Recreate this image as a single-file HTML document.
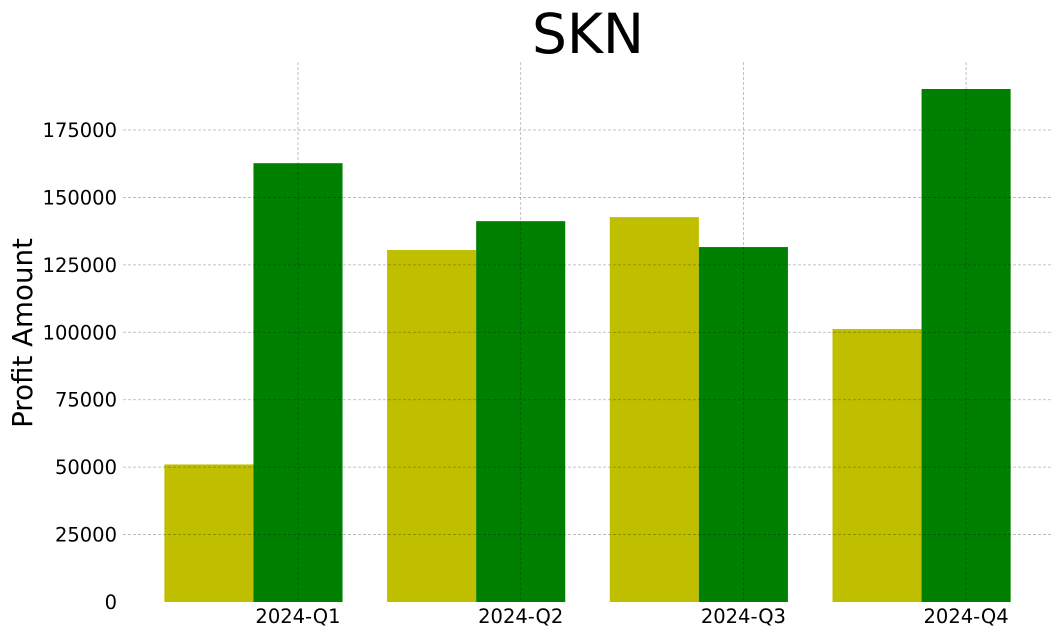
<!DOCTYPE html>
<html><head><meta charset="utf-8"><style>
html,body{margin:0;padding:0;background:#fff;}
svg{display:block;font-family:"DejaVu Sans","Liberation Sans",sans-serif;}
</style></head><body>
<svg id="chart" width="1062" height="636">
<text x="588" y="53" font-size="55" text-anchor="middle">SKN</text>
<text transform="translate(32,333) rotate(-90)" font-size="27.7" text-anchor="middle">Profit Amount</text>
<g id="bars"></g><g id="grid"></g><g id="ticks"></g>
</svg>
<script>
const categories = ["2024-Q1","2024-Q2","2024-Q3","2024-Q4"];
const seriesA = [51000, 130500, 142700, 101200];
const seriesB = [162700, 141200, 131600, 190200];
const yTicks = [0,25000,50000,75000,100000,125000,150000,175000];
const NS="http://www.w3.org/2000/svg";
const plotL=123, plotR=1053, plotT=62, y0=602, yPer=(602-130)/175000;
const x=i=>298+i*222.7;
const y=v=>y0-v*yPer;
const bw=0.4*222.7;
function mk(tag,attrs,parent){const e=document.createElementNS(NS,tag);for(const k in attrs)e.setAttribute(k,attrs[k]);parent.appendChild(e);return e;}
const bars=document.getElementById('bars'),grid=document.getElementById('grid'),ticks=document.getElementById('ticks');
categories.forEach((c,i)=>{
  const a=mk('rect',{x:x(i)-1.5*bw,y:y(seriesA[i]),width:bw,height:y0-y(seriesA[i]),fill:'#bfbf00'},bars);
  
  
  const b=mk('rect',{x:x(i)-0.5*bw,y:y(seriesB[i]),width:bw,height:y0-y(seriesB[i]),fill:'#008000'},bars);
  
  
  const g=mk('line',{x1:x(i),x2:x(i),y1:plotT,y2:y0,stroke:'#000','stroke-opacity':0.3,'stroke-width':0.8,'stroke-dasharray':'3,2'},grid);
  
  
  const t=mk('text',{x:x(i),y:623,'font-size':19.5,'text-anchor':'middle'},ticks);
  t.textContent=c;
  
  
});
yTicks.forEach(v=>{
  if(v>0){const g=mk('line',{x1:plotL,x2:plotR,y1:y(v),y2:y(v),stroke:'#000','stroke-opacity':0.3,'stroke-width':0.8,'stroke-dasharray':'3,2'},grid);
  
  }
  const t=mk('text',{x:117,y:y(v)+7,'font-size':19.5,'text-anchor':'end'},ticks);
  t.textContent=v;
  
  
});
</script>
</body></html>
